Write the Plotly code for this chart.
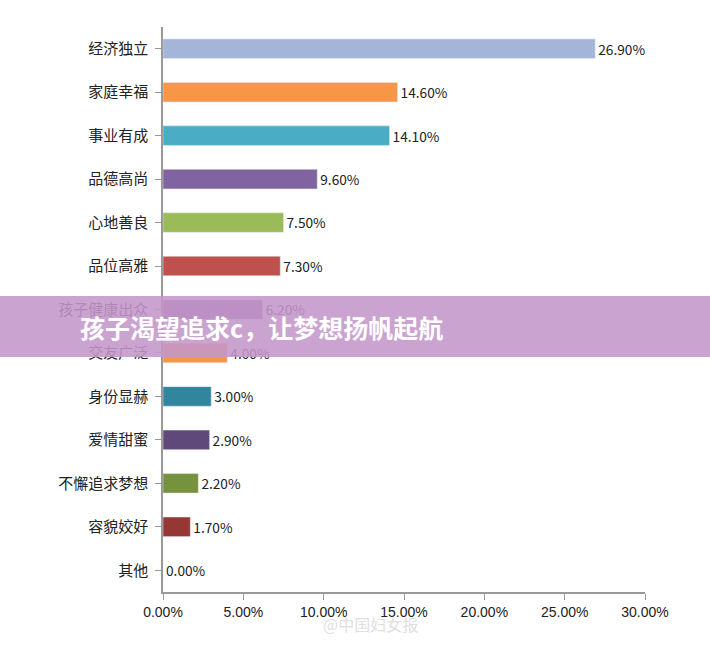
import plotly.graph_objects as go

categories = ["经济独立", "家庭幸福", "事业有成", "品德高尚", "心地善良", "品位高雅", "孩子健康出众",
              "交友广泛", "身份显赫", "爱情甜蜜", "不懈追求梦想", "容貌姣好", "其他"]
values = [26.9, 14.6, 14.1, 9.6, 7.5, 7.3, 6.2, 4.0, 3.0, 2.9, 2.2, 1.7, 0.0]
colors = ["#a5b5d8", "#f79646", "#4bacc6", "#8064a2", "#9bbb59", "#c0504d", "#8064a2",
          "#f79646", "#31859c", "#5f497a", "#76923c", "#953735", "#4f81bd"]
tick_vals = [0, 5, 10, 15, 20, 25, 30]

font = "Liberation Sans, DejaVu Sans, Noto Sans CJK SC"

fig = go.Figure(go.Bar(
    y=categories, x=values, orientation="h", marker_color=colors,
    text=[f"{v:.2f}%" for v in values], textposition="outside", cliponaxis=False,
    textfont=dict(size=14, color="#222"),
))
fig.update_layout(
    width=710, height=655, margin=dict(l=163, r=65, t=27, b=63, autoexpand=False),
    paper_bgcolor="white", plot_bgcolor="white", showlegend=False, bargap=0.55,
    font=dict(family="Noto Sans CJK SC", size=14, color="#222"),
    xaxis=dict(range=[0, 30], tickvals=tick_vals, ticktext=[f"{t:.2f}%" for t in tick_vals],
               showgrid=False, zeroline=False, showline=True, linecolor="#999", linewidth=1.5,
               ticks="outside", ticklen=6, tickcolor="#999", tickfont=dict(family=font, size=14),
               automargin=False),
    yaxis=dict(autorange="reversed", showgrid=False, showline=True, linecolor="#999", linewidth=1.5,
               ticks="outside", ticklen=6, tickcolor="#999", ticklabelstandoff=4,
               tickfont=dict(family="Noto Sans CJK SC", size=15), automargin=False),
)
# purple banner across the middle
fig.add_shape(type="rect", xref="paper", yref="paper", x0=-0.34, x1=1.14,
              y0=(655 - 63 - 357) / 565, y1=(655 - 63 - 296) / 565,
              fillcolor="#c496c9", opacity=0.88, line_width=0, layer="above")
fig.add_annotation(x=(261 - 163) / 482, y=(655 - 63 - 327) / 565, xref="paper", yref="paper",
                   xanchor="center", yanchor="middle", showarrow=False,
                   text="<b>孩子渴望追求c，让梦想扬帆起航</b>",
                   font=dict(family="Noto Sans CJK SC", size=25, color="white"))
fig.add_annotation(x=(370 - 163) / 482, y=(655 - 63 - 638) / 565, xref="paper", yref="paper",
                   showarrow=False, text="@中国妇女报",
                   font=dict(family="Noto Sans CJK SC", size=16, color="#e0e0e0"))
fig.write_html("out.html", config={"displayModeBar": False},
               post_script="document.body.style.margin='0';")
